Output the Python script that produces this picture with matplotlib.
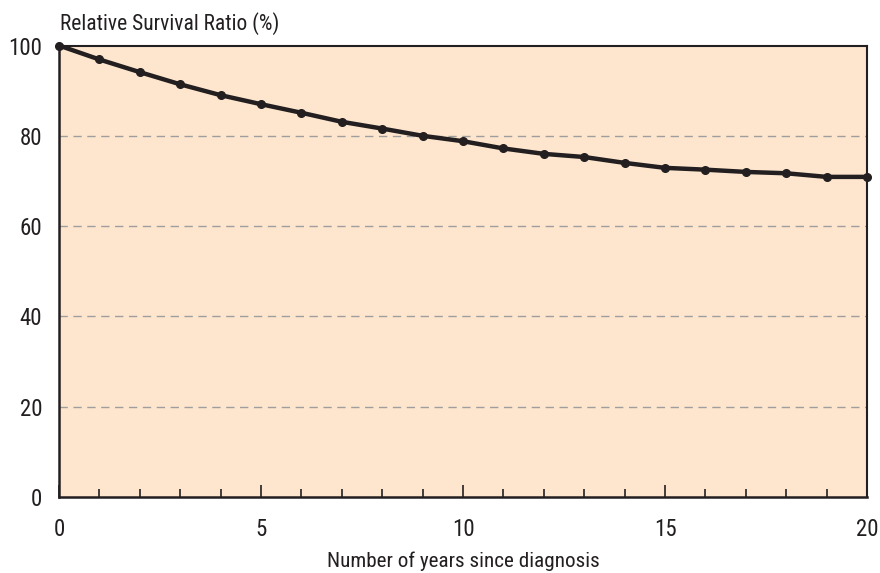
import matplotlib
matplotlib.use("Agg")
import matplotlib.pyplot as plt
from matplotlib import font_manager
from matplotlib.ticker import MultipleLocator

years = list(range(0, 21))
survival = [100.0, 96.9, 94.1, 91.4, 89.0, 87.0, 85.1, 83.1, 81.6, 80.0,
            78.8, 77.2, 76.0, 75.3, 74.0, 72.9, 72.5, 72.0, 71.7, 70.9, 70.9]
y_ticks = [0, 20, 40, 60, 80, 100]
x_ticks = [0, 5, 10, 15, 20]
title = "Relative Survival Ratio (%)"
xlabel = "Number of years since diagnosis"

names = {f.name for f in font_manager.fontManager.ttflist}
fam = next((n for n in ["Roboto Condensed", "Archivo Narrow", "PT Sans Narrow",
                        "Liberation Sans"] if n in names), "DejaVu Sans")
plt.rcParams['font.family'] = [fam, 'DejaVu Sans']

fig = plt.figure(figsize=(8.8, 5.73), dpi=100)
ax = fig.add_axes([59/880, 1-497/573, (867-59)/880, (497-45.5)/573])
ax.set_facecolor("#FEE6CE")

for yv in y_ticks[1:-1]:
    ax.axhline(yv, color="#9E9E9E", lw=1.0, ls=(0, (6, 4)), zorder=1)

ax.plot(years, survival, color="#231F20", lw=3.2, marker="o", ms=5.5,
        zorder=3, clip_on=False)

ax.set_xlim(0, 20)
ax.set_ylim(0, 100)
ax.set_xticks(x_ticks)
ax.xaxis.set_minor_locator(MultipleLocator(1))
ax.set_yticks(y_ticks)
ax.tick_params(axis="x", which="major", direction="in", length=8.5, width=1.2,
               color="#231F20", labelsize=16.5, pad=15, labelcolor="#231F20")
ax.tick_params(axis="x", which="minor", direction="in", length=5.5, width=1.2,
               color="#231F20")
ax.tick_params(axis="y", length=0, labelsize=16.5, pad=12, labelcolor="#231F20")
for s in ax.spines.values():
    s.set_color("#231F20")
ax.spines["left"].set_linewidth(1.8)
ax.spines["bottom"].set_linewidth(1.8)
ax.spines["top"].set_linewidth(1.5)
ax.spines["right"].set_linewidth(1.5)

fig.text(60/880, 1-24/573, title, fontsize=15.5, ha="left", va="center", color="#231F20")
fig.text((59+867)/2/880, 1-561/573, xlabel, fontsize=15.2, ha="center", va="center", color="#231F20")

fig.savefig("out.png", dpi=100)
